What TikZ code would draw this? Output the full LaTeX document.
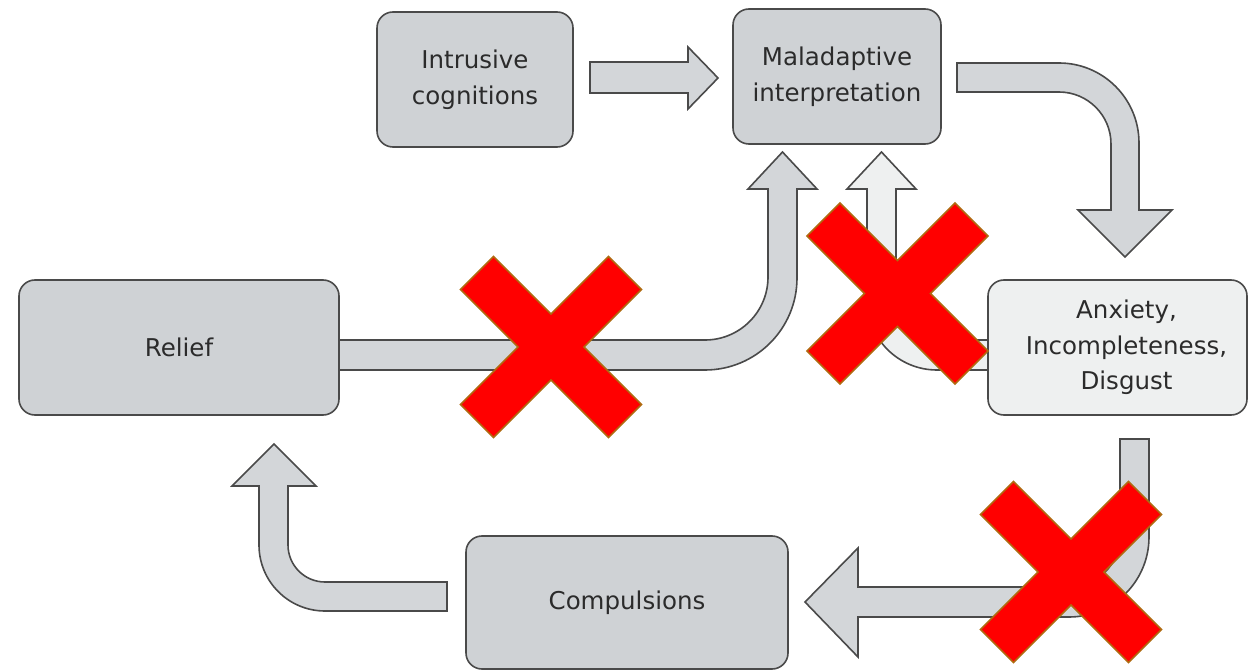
\documentclass[tikz,border=0pt]{standalone}
\usepackage{fontspec}
\setmainfont{DejaVu Sans}
\usetikzlibrary{calc}
\definecolor{boxfill}{HTML}{CFD2D5}
\definecolor{arrfill}{HTML}{D3D6D9}
\definecolor{lightfill}{HTML}{EEF0F0}
\definecolor{edge}{HTML}{4A4A4A}
\definecolor{txtcol}{HTML}{2B2B2B}
\definecolor{xred}{HTML}{FF0000}
\definecolor{xedge}{HTML}{B06A10}
\tikzset{
  box/.style={draw=edge, line width=1.6pt, fill=boxfill, rounded corners=16pt,
    minimum height=135pt, inner sep=0pt, text=txtcol, align=center,
    font=\fontsize{24.5}{35.5}\selectfont},
  lightbox/.style={box, fill=lightfill},
  txt/.style={text=txtcol, align=center, inner sep=0pt, font=\fontsize{24.5}{35.5}\selectfont},
  barrow/.style={draw=edge, line width=1.6pt, fill=arrfill, line join=miter},
  larrow/.style={barrow, fill=lightfill},
  redx/.pic={
    \draw[fill=xred, draw=xedge, line width=1.5pt, line join=miter]
      (-57.5,-90.5) -- (0,-33) -- (57.5,-90.5) -- (90.5,-57.5) -- (33,0) -- (90.5,57.5)
      -- (57.5,90.5) -- (0,33) -- (-57.5,90.5) -- (-90.5,57.5) -- (-33,0) -- (-90.5,-57.5) -- cycle;
  }
}
\begin{document}
\begin{tikzpicture}[x=1pt,y=-1pt]
\useasboundingbox (0,0) rectangle (1248,671);
\fill[white] (0,0) rectangle (1248,671);

% block arrows (connectors)
% Intrusive -> Maladaptive
\draw[barrow] (590,62) -- (688,62) -- (688,47) -- (718,78) -- (688,109) -- (688,93) -- (590,93) -- cycle;
% Maladaptive -> Anxiety
\draw[barrow] (957,63) -- (1059,63) .. controls (1103.2,63) and (1139,98.8) .. (1139,143)
  -- (1139,210) -- (1172,210) -- (1125,257) -- (1078,210) -- (1111,210) -- (1111,144)
  .. controls (1111,115.3) and (1087.7,92) .. (1059,92) -- (957,92) -- cycle;
% Relief -> Maladaptive
\draw[barrow] (339,340) -- (705,340) .. controls (739.8,340) and (768,311.8) .. (768,277)
  -- (768,189) -- (748,189) -- (782.5,152) -- (817,189) -- (797,189) -- (797,278)
  .. controls (797,328.8) and (755.8,370) .. (705,370) -- (339,370) -- cycle;
% Anxiety -> Maladaptive (light)
\draw[larrow] (988,340) -- (937,340) .. controls (914.4,340) and (896,321.6) .. (896,299)
  -- (896,189) -- (916,189) -- (881.5,152) -- (847,189) -- (867,189) -- (867,300)
  .. controls (867,338.7) and (898.3,370) .. (937,370) -- (988,370) -- cycle;
% Anxiety -> Compulsions
\draw[barrow] (1120,439) -- (1149,439) -- (1149,537) .. controls (1149,581.2) and (1113.2,617) .. (1069,617)
  -- (858,617) -- (858,657) -- (805,602) -- (858,548) -- (858,587) -- (1069,587)
  .. controls (1097.2,587) and (1120,564.2) .. (1120,536) -- cycle;
% Compulsions -> Relief
\draw[barrow] (447,582) -- (325,582) .. controls (304.6,582) and (288,565.4) .. (288,545)
  -- (288,486) -- (316,486) -- (274,444) -- (232,486) -- (259,486) -- (259,545)
  .. controls (259,581.5) and (288.5,611) .. (325,611) -- (447,611) -- cycle;

% boxes
\node[box, minimum width=196pt] (intr) at (475,79.5) {Intrusive\\cognitions};
\node[box, minimum width=208pt] (mal) at (837,76.5) {Maladaptive\\interpretation};
\node[box, minimum width=320pt] (relief) at (179,347.5) {Relief};
\node[lightbox, minimum width=259pt] (anx) at (1117.5,347.5) {};
\node[txt] (anxtext) at ([xshift=9pt]anx.center) {Anxiety,\\Incompleteness,\\Disgust};
\node[box, minimum width=322pt, minimum height=133pt] (comp) at (627,602.5) {Compulsions};

% red crosses
\pic at (551,347) {redx};
\pic at (897.5,293.5) {redx};
\pic at (1071,572) {redx};
\end{tikzpicture}
\end{document}
